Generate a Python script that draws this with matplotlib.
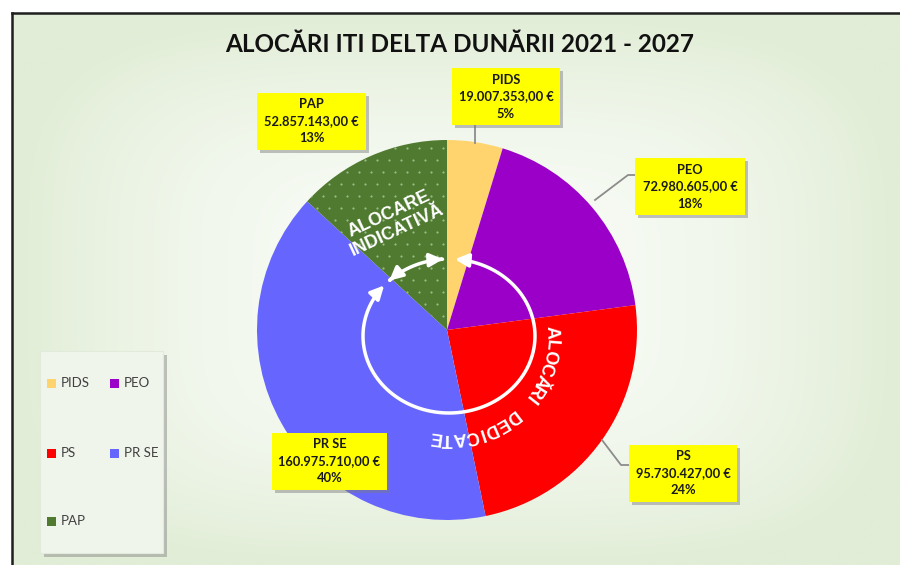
import numpy as np
import matplotlib.pyplot as plt
from matplotlib.patches import Rectangle, FancyArrowPatch
from matplotlib.path import Path

# data
labels = ['PIDS', 'PEO', 'PS', 'PR SE', 'PAP']
values = [19007353.00, 72980605.00, 95730427.00, 160975710.00, 52857143.00]
colors = ['#ffd46e', '#9a00c8', '#ff0000', '#6666ff', '#4f7a30']
title = 'ALOCĂRI ITI DELTA DUNĂRII 2021 - 2027'
ring_top = 'ALOCARE\nINDICATIVĂ'
ring_side = 'ALOCĂRI DEDICATE'

W, H = 900, 565
NARROW = ['Lato', 'DejaVu Sans']
ARIAL = ['Liberation Sans', 'DejaVu Sans']


def py(y):
    # pixel row (from top) -> data y
    return H - y


def euro(v):
    s = f"{v:,.2f}".replace(',', 'X').replace('.', ',').replace('X', '.')
    return s + ' €'


total = sum(values)
percents = [f"{round(v / total * 100):.0f}%" for v in values]

fig = plt.figure(figsize=(9, 5.65), dpi=100, facecolor='white')
ax = fig.add_axes([0, 0, 1, 1])

# background gradient inside the frame
gx, gy = np.meshgrid(np.linspace(-1, 1, 450), np.linspace(-1, 1, 280))
r = np.clip((np.abs(gx) ** 4 + np.abs(gy) ** 4) ** 0.25, 0, 1)
c0 = np.array([249, 252, 247]) / 255
c1 = np.array([225, 237, 214]) / 255
img = c0 + (c1 - c0) * (r[..., None] ** 2.0)
ax.imshow(img, extent=(12, 902, -2, py(13)), aspect='auto', zorder=0,
          interpolation='bilinear')
ax.plot([12, 12], [-2, py(13)], color='#1e1e1e', lw=1.8, zorder=10)
ax.plot([12, 905], [py(13), py(13)], color='#1e1e1e', lw=1.8, zorder=10)

# pie
cx, cy, R = 447, py(330), 190
wedges, _ = ax.pie(values, colors=colors, startangle=90, counterclock=False,
                   center=(cx, cy), radius=R, frame=True)

# dotted pattern on PAP
dx, dy = np.meshgrid(np.arange(cx - R, cx + R, 12), np.arange(cy - R, cy + R, 12))
dx = dx + (np.arange(dx.shape[0])[:, None] % 2) * 6
dots = ax.scatter(dx.ravel(), dy.ravel(), s=2.6, c='#98bc82', lw=0, zorder=2)
dots.set_clip_path(wedges[4])

# white ring with arrows
ex, ey, rx, ry = 449, py(336), 86, 77


def arc(t0, t1):
    t = np.radians(np.linspace(t0, t1, 120))
    return Path(np.column_stack([ex + rx * np.cos(t), ey + ry * np.sin(t)]))


style = '<|-|>,head_length=8,head_width=4'
ax.add_patch(FancyArrowPatch(path=arc(86, 139 - 360), arrowstyle=style,
                             color='white', lw=2.5, zorder=4))
ax.add_patch(FancyArrowPatch(path=arc(134, 94), arrowstyle=style,
                             color='white', lw=2.5, zorder=4))

ax.text(393, py(222), ring_top, rotation=25, rotation_mode='anchor',
        ha='center', va='center', color='white', fontsize=13,
        fontweight='bold', family=ARIAL, linespacing=1.1, zorder=4)

# curved text
weights = {'I': 0.55, ' ': 1.3}
w = [weights.get(ch, 1.0) for ch in ring_side]
pos = np.concatenate([[0], np.cumsum([(w[i] + w[i + 1]) / 2 for i in range(len(w) - 1)])])
angles = 2 - pos / pos[-1] * 100
for ch, a in zip(ring_side, angles):
    t = np.radians(a)
    ax.text(ex + 102 * np.cos(t), ey + 102 * np.sin(t), ch, rotation=a - 90,
            rotation_mode='anchor', ha='center', va='center', color='white',
            fontsize=13, fontweight='bold', family=ARIAL, zorder=4)

# leader lines
lc = '#8c8c8c'
ax.plot([475, 475], [py(125), py(143)], color=lc, lw=1.3, zorder=3)
ax.plot([595, 628, 636], [py(200), py(175), py(175)], color=lc, lw=1.3, zorder=3)
ax.plot([602, 621, 629], [py(440), py(465), py(465)], color=lc, lw=1.3, zorder=3)

# label boxes: center x, center y (px from top), width
boxes = [(506, 96.5, 108), (690, 186.5, 110), (683, 473.5, 108),
         (329.5, 461.5, 115), (311.5, 121, 109)]
bh = 57
for (bx, by, bw), lab, v, p in zip(boxes, labels, values, percents):
    ax.add_patch(Rectangle((bx - bw / 2 + 3, py(by) - bh / 2 - 3), bw, bh,
                           fc='#7a7a7a', alpha=0.45, lw=0, zorder=5))
    ax.add_patch(Rectangle((bx - bw / 2, py(by) - bh / 2), bw, bh,
                           fc='#ffff00', lw=0, zorder=6))
    ax.text(bx, py(by), f"{lab}\n{euro(v)}\n{p}", ha='center', va='center',
            fontsize=9.3, fontweight='bold', family=NARROW, color='#1a1a1a',
            linespacing=1.5, zorder=7)

# title
ax.text(460, py(45), title, ha='center', va='center', fontsize=17.5,
        fontweight='bold', family=NARROW, color='#111111', zorder=7)

# legend
ax.add_patch(Rectangle((44, py(557)), 123, 202, fc='#8a8a8a', alpha=0.5, lw=0, zorder=5))
ax.add_patch(Rectangle((40, py(553)), 123, 202, fc='#f0f5ec', ec='#e2eadb', lw=0.8, zorder=6))
leg_pos = [(47, 383), (110, 383), (47, 453), (110, 453), (47, 521)]
for (lx, ly), lab, col in zip(leg_pos, labels, colors):
    ax.add_patch(Rectangle((lx, py(ly) - 4.5), 9, 9, fc=col, lw=0, zorder=7))
    ax.text(lx + 14, py(ly), lab, ha='left', va='center', fontsize=9.5,
            family=NARROW, color='#404040', zorder=7)

ax.set_xlim(0, W)
ax.set_ylim(0, H)
ax.set_aspect('auto')
for s in ax.spines.values():
    s.set_visible(False)
ax.axis('off')
fig.savefig('out.png', dpi=100, facecolor='white')
